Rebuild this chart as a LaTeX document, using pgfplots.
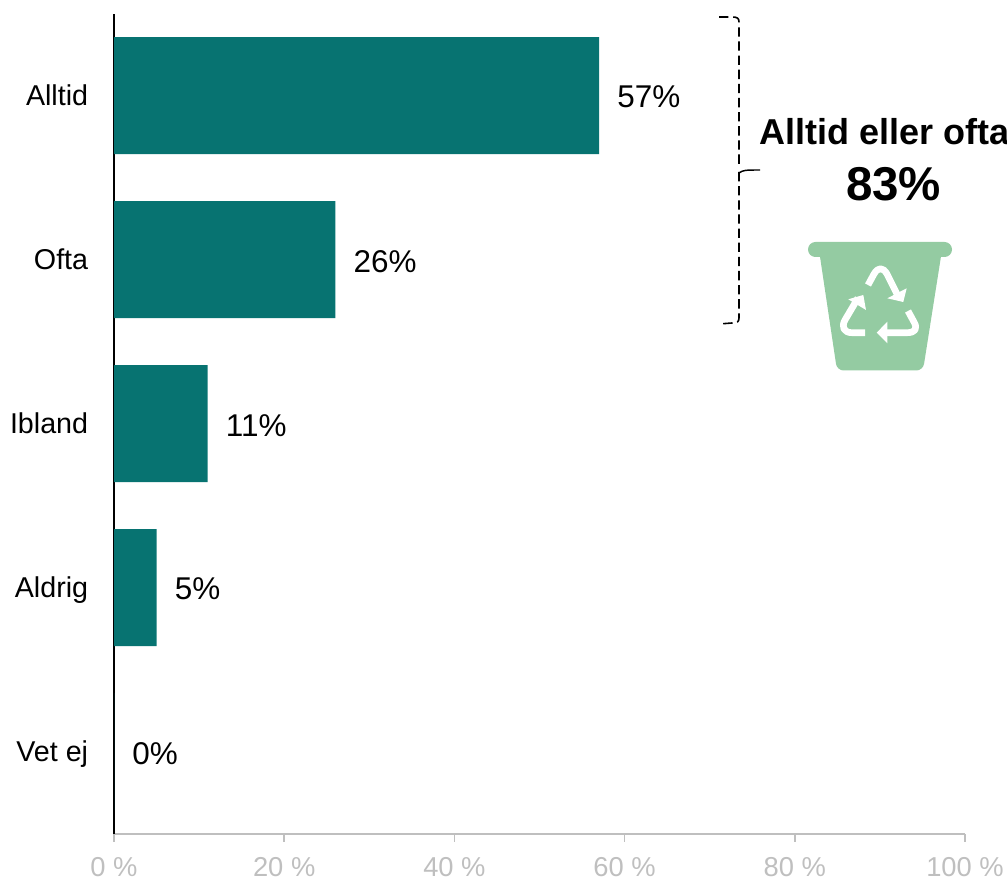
\documentclass[border=0pt]{standalone}
\usepackage{pgfplots}
\pgfplotsset{compat=1.18}
\usepackage{fontspec}
\setmainfont{Liberation Sans}
\definecolor{barteal}{HTML}{077371}
\definecolor{binfill}{HTML}{94CBA2}
\definecolor{axisgrey}{HTML}{BFBFBF}
\begin{document}
\begin{tikzpicture}
\useasboundingbox (0,0) rectangle (755.25pt,-660pt);
\clip (0,0) rectangle (755.25pt,-660pt);
\begin{axis}[
  at={(85.5pt,-625.2pt)}, anchor=south west,
  scale only axis, width=638.25pt, height=615pt,
  xmin=0, xmax=100, ymin=-0.5, ymax=4.5,
  axis lines*=left,
  axis line style={-},
  x axis line style={draw=axisgrey, line width=1.5pt},
  y axis line style={draw=black, line width=1.5pt},
  xtick={0,20,40,60,80,100},
  xticklabels={0 \%,20 \%,40 \%,60 \%,80 \%,100 \%},
  ytick={0,1,2,3,4},
  yticklabels={Vet ej,Aldrig,Ibland,Ofta,Alltid},
  tick align=outside,
  x tick style={draw=axisgrey, line width=1.2pt},
  major tick length=6pt,
  y tick style={draw=none},
  x tick label style={font=\fontsize{20.5pt}{24pt}\selectfont, text=axisgrey, inner sep=0pt, yshift=-11.8pt},
  y tick label style={font=\fontsize{21.5pt}{25pt}\selectfont, text=black, inner sep=0pt, anchor=base east, xshift=-13.2pt, yshift=-7.6pt},
  clip=false,
]
\addplot[
  xbar, bar width=87.75pt, bar shift=0pt, draw=none, fill=barteal,
  point meta=x,
  nodes near coords={\pgfmathprintnumber[assume math mode=true,precision=0]{\pgfplotspointmeta}\%},
  every node near coord/.append style={font=\fontsize{23.6pt}{28pt}\selectfont, text=black, anchor=west, inner sep=0pt, xshift=13.5pt, yshift=-1.2pt},
] coordinates {(57,4) (26,3) (11,2) (5,1) (0,0)};
\end{axis}
\begin{scope}[x=0.75pt, y=-0.75pt]
  % bracket grouping the two top categories
  \draw[black, line width=1.2pt, dash pattern=on 7pt off 3.6pt]
    (719,17) -- (732,17) .. controls (737,17) and (739,18) .. (739,22) -- (739,168)
    (739,172) -- (739,318) .. controls (739,322) and (737,323) .. (732,323) -- (719,324);
  \draw[black, line width=1.1pt] (739,173) .. controls (743,170) and (746,170) .. (760,170);
  % summary text
  \node[anchor=base west, inner sep=0pt, font=\bfseries\fontsize{27pt}{32pt}\selectfont] at (759,144.5) {Alltid eller ofta};
  \node[anchor=base, inner sep=0pt, font=\bfseries\fontsize{35.6pt}{42pt}\selectfont] at (893.5,200.5) {83\%};
  % waste bin
  \fill[binfill, rounded corners=5.6pt] (808,242) rectangle (952,257);
  \fill[binfill, rounded corners=5pt] (819,250) -- (942,250) -- (923,370.5) -- (837,370.5) -- cycle;
  % recycling symbol
  \begin{scope}[white, line width=5pt, line join=round]
    \draw (868,285) -- (874,274) .. controls (878,267) and (883,267) .. (887,274) -- (898,296);
    \fill (903.3,302) -- (887.3,298.3) -- (906.7,288.3) -- cycle;
    \draw (865,332.7) -- (852,332.7) .. controls (844,332.7) and (841,327) .. (845,320) -- (858,298);
    \fill (863.3,295) -- (848.3,299.3) -- (866,310) -- cycle;
    \draw (908,311) -- (914,322) .. controls (918,329) and (915,332.7) .. (907,332.7) -- (883,332.7);
    \fill (876.7,332.7) -- (887.3,321.7) -- (887.3,343.3) -- cycle;
  \end{scope}
\end{scope}
\end{tikzpicture}
\end{document}
